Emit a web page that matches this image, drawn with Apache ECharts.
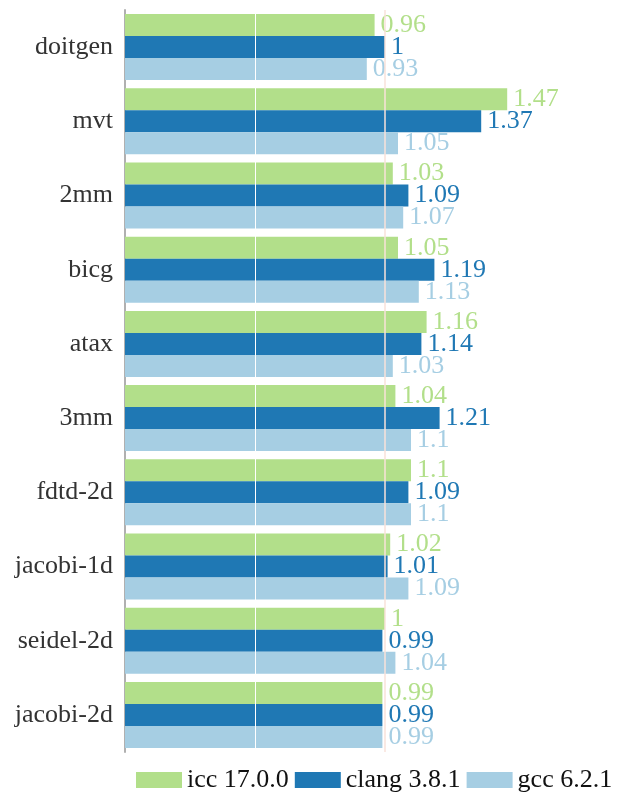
<!DOCTYPE html>
<html>
<head>
<meta charset="utf-8">
<script src="https://cdn.jsdelivr.net/npm/echarts@6/dist/echarts.min.js"></script>
<style>
  html, body { margin: 0; padding: 0; background: #fff; }
  #chart { width: 631px; height: 794px; }
</style>
</head>
<body>
<div id="chart"></div>
<script>
var categories = ['doitgen', 'mvt', '2mm', 'bicg', 'atax', '3mm', 'fdtd-2d', 'jacobi-1d', 'seidel-2d', 'jacobi-2d'];
var seriesNames = ['icc 17.0.0', 'clang 3.8.1', 'gcc 6.2.1'];
var iccValues = [0.96, 1.47, 1.03, 1.05, 1.16, 1.04, 1.1, 1.02, 1, 0.99];
var clangValues = [1, 1.37, 1.09, 1.19, 1.14, 1.21, 1.09, 1.01, 0.99, 0.99];
var gccValues = [0.93, 1.05, 1.07, 1.13, 1.03, 1.1, 1.1, 1.09, 1.04, 0.99];
var colors = ['#b2df8a', '#1f78b4', '#a6cee3'];
var fontFam = '"Liberation Serif", "DejaVu Serif", serif';

var chart = echarts.init(document.getElementById('chart'));

function barSeries(name, data, color, withLines) {
    var s = {
        name: name,
        type: 'bar',
        data: data,
        barWidth: 22,
        barGap: '0%',
        itemStyle: { color: color },
        label: {
            show: true,
            position: 'right',
            distance: 6,
            color: color,
            fontFamily: fontFam,
            fontSize: 26
        }
    };
    if (withLines) {
        // grid lines are drawn over the bars in the original
        s.markLine = {
            silent: true,
            z: 5,
            symbol: 'none',
            label: { show: false },
            data: [
                { xAxis: 0.5, lineStyle: { color: '#ffffff', width: 1, type: 'solid' } },
                { xAxis: 1, lineStyle: { color: '#f8e2da', width: 1.5, type: 'solid' } }
            ]
        };
    }
    return s;
}

chart.setOption({
    animation: false,
    grid: { left: 125, right: 116, top: 10, bottom: 42 },
    legend: {
        top: 762,
        left: 131,
        itemWidth: 46,
        itemHeight: 16,
        itemGap: 6,
        icon: 'rect',
        textStyle: { fontFamily: fontFam, fontSize: 26, color: '#111' },
        data: seriesNames
    },
    xAxis: {
        type: 'value',
        min: 0,
        max: 1.5,
        interval: 0.5,
        axisLabel: { show: false },
        axisLine: { show: false },
        axisTick: { show: false },
        splitLine: { show: false }
    },
    yAxis: {
        type: 'category',
        data: categories,
        inverse: true,
        axisLine: { show: true, lineStyle: { color: '#b0b0b0', width: 2 } },
        axisTick: { show: false },
        axisLabel: { fontFamily: fontFam, fontSize: 26, color: '#333', margin: 12 }
    },
    series: [
        barSeries(seriesNames[0], iccValues, colors[0], false),
        barSeries(seriesNames[1], clangValues, colors[1], false),
        barSeries(seriesNames[2], gccValues, colors[2], true)
    ]
});
</script>
</body>
</html>
